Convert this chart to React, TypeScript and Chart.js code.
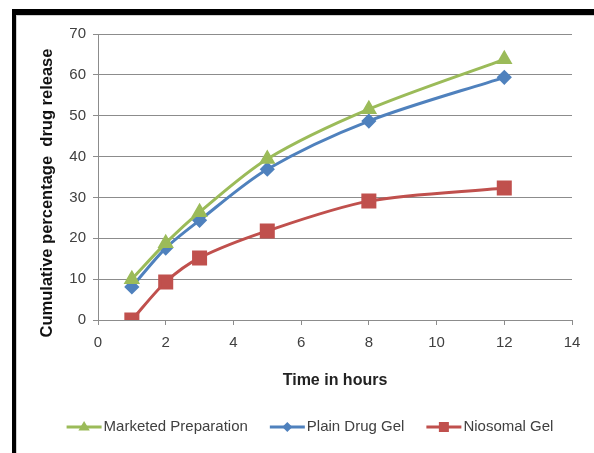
import React, { useEffect, useRef } from "react";
import { Chart, registerables } from "chart.js";

Chart.register(...registerables);

const hours = [1, 2, 3, 5, 8, 12];
const marketedPreparation = [10, 18.8, 26.4, 39.4, 51.6, 63.8];
const plainDrugGel = [8.1, 17.6, 24.4, 36.9, 48.7, 59.4];
const niosomalGel = [0, 9.3, 15.2, 21.8, 29.1, 32.3];
const seriesNames = ["Marketed Preparation", "Plain Drug Gel", "Niosomal Gel"];
const xTitle = "Time in hours";
const yTitle = "Cumulative percentage  drug release";

const GREEN = "#9BBB59";
const BLUE = "#4F81BD";
const RED = "#C0504D";
const GRID = "#8c8c8c";
const TEXT = "#404040";

function drawMarker(ctx: CanvasRenderingContext2D, style: string, x: number, y: number, r: number, color: string) {
  ctx.save();
  ctx.fillStyle = color;
  ctx.beginPath();
  if (style === "triangle") {
    ctx.moveTo(x, y - r);
    ctx.lineTo(x + r * 0.95, y + r * 0.6);
    ctx.lineTo(x - r * 0.95, y + r * 0.6);
    ctx.closePath();
  } else if (style === "rectRot") {
    ctx.moveTo(x, y - r);
    ctx.lineTo(x + r, y);
    ctx.lineTo(x, y + r);
    ctx.lineTo(x - r, y);
    ctx.closePath();
  } else {
    ctx.rect(x - r, y - r, 2 * r, 2 * r);
  }
  ctx.fill();
  ctx.restore();
}

const customLegend = {
  id: "customLegend",
  afterDraw(chart: any) {
    const ctx: CanvasRenderingContext2D = chart.ctx;
    const ds = chart.data.datasets;
    const seg = 35;
    const gap = 22;
    const y = 427;
    ctx.save();
    ctx.font = "15px 'Liberation Sans', Arial, sans-serif";
    const widths = ds.map((d: any) => ctx.measureText(d.label).width);
    const total = widths.reduce((a: number, w: number) => a + seg + 2 + w, 0) + gap * (ds.length - 1);
    let x = 310 - total / 2;
    ds.forEach((d: any, i: number) => {
      ctx.strokeStyle = d.borderColor;
      ctx.lineWidth = 3;
      ctx.beginPath();
      ctx.moveTo(x, y);
      ctx.lineTo(x + seg, y);
      ctx.stroke();
      const sizes: any = { triangle: 6, rectRot: 5, rect: 5 };
      drawMarker(ctx, d.pointStyle, x + seg / 2, y, sizes[d.pointStyle], d.borderColor);
      ctx.fillStyle = TEXT;
      ctx.textBaseline = "middle";
      ctx.textAlign = "left";
      ctx.fillText(d.label, x + seg + 2, y);
      x += seg + 2 + widths[i] + gap;
    });
    // y-axis title
    ctx.translate(47, 193);
    ctx.rotate(-Math.PI / 2);
    ctx.font = "bold 16.5px 'Liberation Sans', Arial, sans-serif";
    ctx.fillStyle = "#111";
    ctx.textAlign = "center";
    ctx.textBaseline = "middle";
    ctx.fillText(yTitle, 0, 0);
    ctx.restore();
  },
};

export default function App() {
  const ref = useRef<HTMLCanvasElement | null>(null);
  useEffect(() => {
    if (!ref.current) return;
    const toPts = (vals: number[]) => hours.map((h, i) => ({ x: h, y: vals[i] }));
    const chart = new Chart(ref.current, {
      type: "line",
      data: {
        datasets: [
          {
            label: seriesNames[0],
            data: toPts(marketedPreparation),
            borderColor: GREEN,
            backgroundColor: GREEN,
            pointStyle: "triangle",
            pointRadius: 6.5,
            borderWidth: 3,
            tension: 0.3,
          },
          {
            label: seriesNames[1],
            data: toPts(plainDrugGel),
            borderColor: BLUE,
            backgroundColor: BLUE,
            pointStyle: "rectRot",
            pointRadius: 5.5,
            borderWidth: 3,
            tension: 0.3,
          },
          {
            label: seriesNames[2],
            data: toPts(niosomalGel),
            borderColor: RED,
            backgroundColor: RED,
            pointStyle: "rect",
            pointRadius: 8.5,
            borderWidth: 3,
            tension: 0.3,
          },
        ] as any,
      },
      options: {
        animation: false,
        responsive: false,
        maintainAspectRatio: false,
        layout: { padding: { left: 17, top: 34, right: 22, bottom: 58 } },
        plugins: { legend: { display: false }, tooltip: { enabled: false } },
        scales: {
          x: {
            type: "linear",
            min: 0,
            max: 14,
            ticks: {
              stepSize: 2,
              color: TEXT,
              padding: 9,
              font: { family: "'Liberation Sans Narrow', 'Liberation Sans', Arial", size: 15 },
              maxRotation: 0,
            },
            grid: { display: true, drawOnChartArea: false, drawTicks: true, tickLength: 5, color: GRID },
            border: { display: true, color: GRID, width: 1 },
            title: {
              display: true,
              text: xTitle,
              color: "#222",
              font: { family: "'Liberation Sans', Arial", size: 16, weight: "bold" },
              padding: { top: 0, bottom: 5 },
            },
            afterFit(scale: any) {
              scale.height = 75;
            },
          },
          y: {
            min: 0,
            max: 70,
            ticks: {
              stepSize: 10,
              color: TEXT,
              padding: 7,
              font: { family: "'Liberation Sans Narrow', 'Liberation Sans', Arial", size: 15 },
            },
            grid: { color: GRID, tickLength: 5, lineWidth: 1 },
            border: { display: true, color: GRID, width: 1 },
            title: { display: false },
            afterFit(scale: any) {
              scale.width = 81;
            },
          },
        },
      } as any,
      plugins: [customLegend],
    });
    return () => chart.destroy();
  }, []);

  return (
    <div style={{ position: "fixed", left: 0, top: 0, width: 594, height: 453, background: "#fff", overflow: "hidden" }}>
      <div style={{ position: "absolute", left: 12, top: 9, width: 600, height: 460, borderTop: "6px solid #000", borderLeft: "4px solid #000", boxSizing: "border-box" }} />
      <div style={{ position: "absolute", left: 16, top: 15, width: 600, height: 460, borderTop: "1px solid #d0d0d0", borderLeft: "1px solid #d0d0d0", boxSizing: "border-box" }} />
      <canvas ref={ref} width={594} height={453} style={{ position: "absolute", left: 0, top: 0, width: 594, height: 453 }} />
    </div>
  );
}
